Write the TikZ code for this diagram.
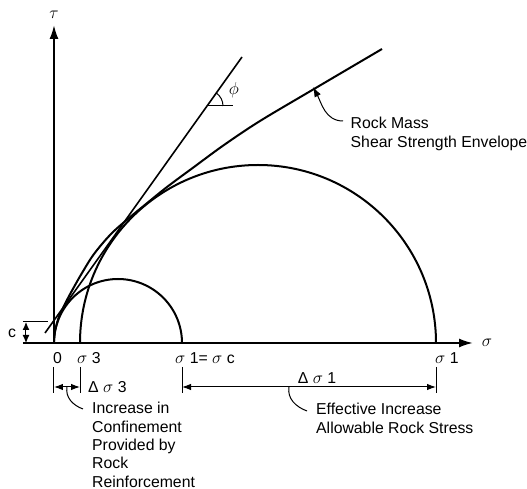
\documentclass[tikz,border=0pt]{standalone}
\usepackage{fontspec}
\setmainfont{Liberation Sans}
\usetikzlibrary{arrows.meta}
\newcommand{\gsym}[1]{{\fontsize{19}{19}\selectfont$#1$}}

\begin{document}
\begin{tikzpicture}[x=1pt,y=1pt,
    axis/.style={line width=2pt,-{Latex[length=14pt,width=9pt]}},
    mohr/.style={line width=2pt},
    dimline/.style={line width=1pt,{Latex[length=9pt,width=6.5pt]}-{Latex[length=9pt,width=6.5pt]}},
    thin/.style={line width=1pt},
    leader/.style={line width=1pt},
    lbl/.style={inner sep=0pt,font=\fontsize{15.8}{18.3}\selectfont}]
\useasboundingbox (-54,-146) rectangle (473,343);

% axes
\coordinate (O) at (0,0);
\coordinate (tauend) at (0,318);
\coordinate (sigstart) at (-31,0);
\coordinate (sigend) at (419,0);
\draw[axis] (O) -- (tauend);
\draw[axis] (sigstart) -- (sigend);
\node[lbl] (taulbl) at (0,328) {\gsym{\tau}};
\node[lbl] (siglbl) at (433,0) {\gsym{\sigma}};

% cohesion
\coordinate (cfoot) at (-28,0);
\coordinate (chead) at (-28,21);
\draw[thin] (-31,21) -- (-6,21);
\draw[line width=1pt,{Latex[length=8pt,width=7pt]}-{Latex[length=8pt,width=7pt]}] (chead) -- (cfoot);
\node[lbl] (clbl) at (-42,10) {c};

% Mohr circles
\draw[mohr] (O) arc[start angle=180,end angle=0,radius=64];
\draw[mohr] (26,0) arc[start angle=180,end angle=0,radius=178];

% linear envelope and friction angle
\draw[line width=1.6pt] (-9,10) -- (188,286);
\coordinate (phic) at (153,237);
\draw[thin] (phic) -- ++(26,0);
\draw[thin] (phic) ++(16,0) arc[start angle=0,end angle=54.5,radius=16];
\node[lbl] (philbl) at (180,253) {\gsym{\phi}};

% rock mass envelope
\draw[mohr] plot[smooth,tension=0.55] coordinates {
    (0,2) (1,12) (2.5,18) (5,26.5) (9,35) (14,45) (20,56) (28,70) (40,89)
    (57,109) (75,125) (92,139) (113,156) (140,176) (170,198) (206,222)
    (260,254) (328,294)};
\coordinate (rmtip) at (259,256);
\coordinate (rmend) at (289,222);
\draw[leader,-{Latex[length=10pt,width=7pt]}] (rmend) to[out=180,in=-62] (rmtip);
\node[lbl,anchor=north west,align=left] (rmtext) at (296.5,225.7)
    {Rock Mass\\Shear Strength Envelope};

% stress labels
\node[lbl,anchor=base west] (zero) at (-1,-20.5) {0};
\node[lbl,anchor=base west] (s3lbl) at (23,-20.5) {\gsym{\sigma} 3};
\node[lbl,anchor=base west] (sclbl) at (121,-20.5) {\gsym{\sigma} 1= \gsym{\sigma} c};
\node[lbl,anchor=base west] (s1lbl) at (381,-20.5) {\gsym{\sigma} 1};

% dimensions
\foreach \x in {0,26,128,382}
    \draw[thin] (\x,-24) -- (\x,-50);
\coordinate (d0) at (0,-44);
\coordinate (d3) at (26,-44);
\coordinate (dc) at (128,-44);
\coordinate (d1) at (382,-44);
\draw[dimline] (d0) -- (d3);
\draw[dimline] (dc) -- (d1);
\node[lbl,anchor=base west] (ds3lbl) at (34,-49.5) {Δ \gsym{\sigma} 3};
\node[lbl,anchor=base] (ds1lbl) at (263,-40.5) {Δ \gsym{\sigma} 1};

% notes
\coordinate (l3a) at (13,-44);
\coordinate (l3b) at (29,-66);
\draw[leader] (l3a) to[out=-100,in=160] (l3b);
\node[lbl,anchor=north west,align=left] (confine) at (38,-59.3)
    {Increase in\\Confinement\\Provided by\\Rock\\Reinforcement};
\coordinate (l1a) at (235,-44);
\coordinate (l1b) at (253,-68);
\draw[leader] (l1a) to[out=-100,in=160] (l1b);
\node[lbl,anchor=north west,align=left] (allow) at (262,-60.3)
    {Effective Increase\\Allowable Rock Stress};
\end{tikzpicture}
\end{document}
